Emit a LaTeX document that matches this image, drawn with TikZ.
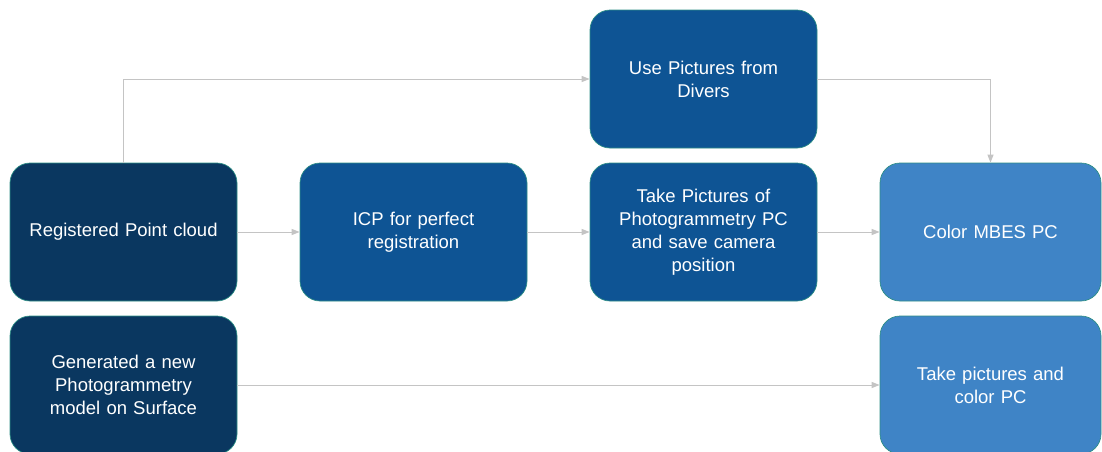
\documentclass[tikz,border=0pt]{standalone}
\usepackage{fontspec}
\setmainfont{Liberation Sans}
\usetikzlibrary{arrows.meta}
\definecolor{navy}{HTML}{0A3760}
\definecolor{midblue}{HTML}{0E5494}
\definecolor{lightblue}{HTML}{3F84C6}
\definecolor{edge}{HTML}{2E8F86}
\definecolor{conn}{HTML}{C4C4C4}
\tikzset{
  box/.style={draw=edge, line width=0.7pt, rounded corners=20pt, minimum width=227pt, minimum height=138pt,
    text width=210pt, align=center, text=white, font=\fontsize{18.5}{23}\selectfont, inner sep=0pt},
  link/.style={draw=conn, line width=1pt, -{Triangle[length=8pt,width=6pt]}}
}
\begin{document}
\begin{tikzpicture}[x=1pt,y=-1pt]
\useasboundingbox (0,0) rectangle (1102,451);
\clip (0,0) rectangle (1102,451);
\node[box, fill=navy] (A) at (123.5,232) {Registered Point cloud};
\node[box, fill=midblue] (B) at (413.5,232) {ICP for perfect\\registration};
\node[box, fill=midblue] (C) at (703.5,232) {Take Pictures of\\Photogrammetry PC\\and save camera\\position};
\node[box, fill=lightblue, minimum width=221pt] (D) at (990.5,232) {Color MBES PC};
\node[box, fill=midblue] (U) at (703.5,79) {Use Pictures from\\Divers};
\node[box, fill=navy] (G) at (123.5,385) {Generated a new\\Photogrammetry\\model on Surface};
\node[box, fill=lightblue, minimum width=221pt] (E) at (990.5,385) {Take pictures and\\color PC};
\draw[link] (A.north) |- (U.west);
\draw[link] (U.east) -| (D.north);
\draw[link] (A.east) -- (B.west);
\draw[link] (B.east) -- (C.west);
\draw[link] (C.east) -- (D.west);
\draw[link] (G.east) -- (E.west);
\end{tikzpicture}
\end{document}
